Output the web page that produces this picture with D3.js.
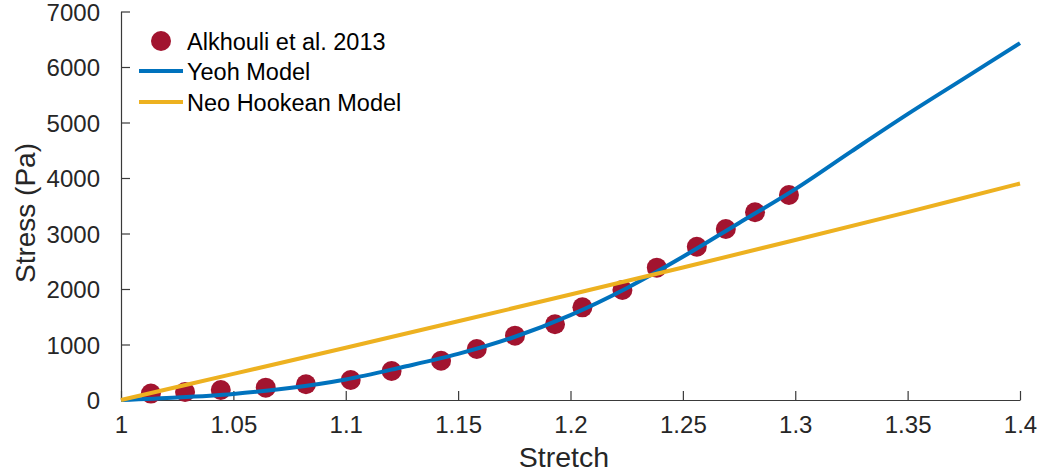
<!DOCTYPE html>
<html>
<head>
<meta charset="utf-8">
<script src="https://cdn.jsdelivr.net/npm/d3@7"></script>
<style>
  html, body { margin: 0; padding: 0; background: #fff; }
  svg { display: block; font-family: "Liberation Sans", Arial, Helvetica, sans-serif; }
</style>
</head>
<body>
<svg id="chart" width="1042" height="475"></svg>
<script>
// Experimental measurements (stretch, stress in Pa)
const expStretch = [1.0133, 1.0285, 1.0444, 1.0644, 1.0823, 1.1022, 1.1204, 1.1424, 1.1583,
                    1.1753, 1.1931, 1.2053, 1.2231, 1.2384, 1.2562, 1.2691, 1.2821, 1.2972];
const expStress  = [115, 145, 180, 222, 283, 360, 523, 708, 919,
                    1159, 1364, 1670, 1982, 2384, 2762, 3081, 3382, 3694];

// Yeoh model curve samples
const yeohStretch = [1.000, 1.025, 1.050, 1.075, 1.100, 1.125, 1.150, 1.175, 1.200,
                     1.225, 1.250, 1.275, 1.300, 1.325, 1.350, 1.375, 1.400];
const yeohStress  = [0, 45, 110, 215, 370, 590, 830, 1135, 1530,
                     2015, 2580, 3190, 3800, 4480, 5150, 5790, 6430];

// Neo-Hookean model curve samples
const neoStretch = [1.00, 1.05, 1.10, 1.15, 1.20, 1.25, 1.30, 1.35, 1.40];
const neoStress  = [0, 470, 942, 1418, 1900, 2387, 2883, 3386, 3900];

// Axis ticks
const xTicks = [1, 1.05, 1.1, 1.15, 1.2, 1.25, 1.3, 1.35, 1.4];
const yTicks = [0, 1000, 2000, 3000, 4000, 5000, 6000, 7000];

const seriesNames = ["Alkhouli et al. 2013", "Yeoh Model", "Neo Hookean Model"];
const colors = { exp: "#A2142F", yeoh: "#0072BD", neo: "#EDB120" };
const axisColor = "#3a3a3a";
const textColor = "#262626";

const svg = d3.select("#chart");
const plotLeft = 121, plotRight = 1020, plotTop = 11.5, plotBottom = 400;

const x = d3.scaleLinear().domain([1, 1.4]).range([plotLeft, plotRight]);
const y = d3.scaleLinear().domain([0, 7000]).range([plotBottom, plotTop]);

// X axis (ticks pointing inward)
const xAxis = svg.append("g")
  .attr("transform", `translate(0,${plotBottom})`)
  .call(d3.axisBottom(x).tickValues(xTicks).tickSizeInner(-9).tickSizeOuter(0)
        .tickFormat(d => d3.format("~g")(d)));
xAxis.attr("font-family", null);
xAxis.select(".domain").attr("stroke", axisColor).attr("stroke-width", 1.2);
xAxis.selectAll(".tick line").attr("stroke", axisColor).attr("stroke-width", 1.2);
xAxis.selectAll(".tick text")
  .attr("y", 33).attr("dy", 0)
  .attr("fill", textColor).style("font-size", "24px");

// Y axis (ticks pointing inward)
const yAxis = svg.append("g")
  .attr("transform", `translate(${plotLeft},0)`)
  .call(d3.axisLeft(y).tickValues(yTicks).tickSizeInner(-9).tickSizeOuter(0)
        .tickFormat(d3.format("d")));
yAxis.attr("font-family", null);
yAxis.select(".domain").attr("stroke", axisColor).attr("stroke-width", 1.2);
yAxis.selectAll(".tick line").attr("stroke", axisColor).attr("stroke-width", 1.2);
yAxis.selectAll(".tick text")
  .attr("x", -21).attr("dy", "0.36em")
  .attr("fill", textColor).style("font-size", "24px");

// Axis titles
svg.append("text")
  .attr("x", 564).attr("y", 467)
  .attr("text-anchor", "middle")
  .attr("fill", textColor).style("font-size", "28.5px")
  .text("Stretch");
svg.append("text")
  .attr("transform", "translate(35,213) rotate(-90)")
  .attr("text-anchor", "middle")
  .attr("fill", textColor).style("font-size", "28px")
  .text("Stress (Pa)");

// Experimental points
svg.append("g").selectAll("circle")
  .data(d3.zip(expStretch, expStress))
  .join("circle")
  .attr("cx", d => x(d[0]))
  .attr("cy", d => y(d[1]))
  .attr("r", 10)
  .attr("fill", colors.exp);

// Model curves
const line = d3.line().x(d => x(d[0])).y(d => y(d[1])).curve(d3.curveCatmullRom.alpha(0.5));

svg.append("path")
  .datum(d3.zip(yeohStretch, yeohStress))
  .attr("d", line)
  .attr("fill", "none")
  .attr("stroke", colors.yeoh)
  .attr("stroke-width", 4);

svg.append("path")
  .datum(d3.zip(neoStretch, neoStress))
  .attr("d", line)
  .attr("fill", "none")
  .attr("stroke", colors.neo)
  .attr("stroke-width", 4);

// Legend
const legend = svg.append("g");
const rowY = [41, 71, 102];
legend.append("circle").attr("cx", 161).attr("cy", rowY[0]).attr("r", 10).attr("fill", colors.exp);
legend.append("line").attr("x1", 139).attr("x2", 183).attr("y1", rowY[1]).attr("y2", rowY[1])
  .attr("stroke", colors.yeoh).attr("stroke-width", 4);
legend.append("line").attr("x1", 139).attr("x2", 183).attr("y1", rowY[2]).attr("y2", rowY[2])
  .attr("stroke", colors.neo).attr("stroke-width", 4);
legend.selectAll("text.lbl")
  .data(seriesNames)
  .join("text")
  .attr("class", "lbl")
  .attr("x", 187)
  .attr("y", (d, i) => rowY[i] + 8.5)
  .attr("fill", "#000")
  .style("font-size", "23.5px")
  .text(d => d);
</script>
</body>
</html>
